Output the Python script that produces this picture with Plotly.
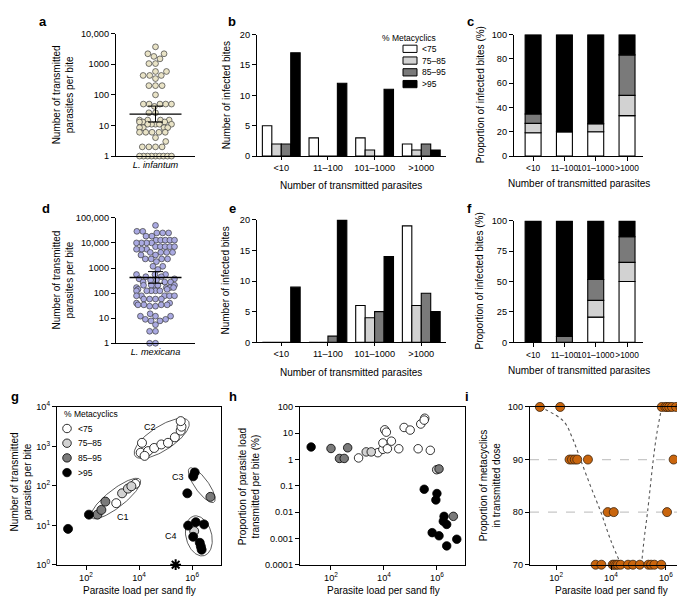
import numpy as np
import plotly.graph_objects as go

W, H = 685, 596
FONT = "Liberation Sans, Arial, sans-serif"

# ------------------------------------------------------------------ data
cat_labels = ["<10", "11–100", "101–1000", ">1000"]
meta_labels = ["<75", "75–85", "85–95", ">95"]

# a: L. infantum, transmitted parasites per bite
infantum_counts = [3700, 2200, 2200, 1800, 1500, 1050, 1050, 580, 580, 430, 430, 430, 340,
                   200, 200, 200, 100, 50, 50, 50, 50, 50, 42, 26, 26, 15, 15, 15, 15,
                   13, 13, 13, 11, 11, 11, 11, 11, 8.5, 8.5, 8.5, 8.5, 6, 6, 6, 6, 6,
                   4, 3, 2, 2, 2, 2, 1, 1, 1, 1, 1, 1, 1, 1, 1]
# d: L. mexicana, transmitted parasites per bite
mexicana_counts = [50000, 29000, 29000, 25000, 25000, 25000, 18600, 18600,
                   12900, 12900, 12900, 12900, 12900, 10000, 10000, 10000, 10000,
                   7100, 7100, 7100, 7100, 7100, 5600, 5600, 5600, 4200, 4200, 4200, 4200,
                   3300, 3300, 2300, 2300, 2300, 2300, 1800, 1170, 1170,
                   870, 550, 550, 550, 450, 450, 370, 370, 330, 330, 275, 275, 275,
                   205, 205, 205, 205, 205, 166, 166, 166, 166, 141, 141,
                   123, 123, 123, 123, 123,
                   78, 78, 78, 78, 78, 58, 58, 58, 58, 40, 40, 34, 34, 34, 34, 30, 30,
                   15, 12, 12, 12,
                   9, 9, 7.8, 7.8, 5.5, 3, 3, 1, 1]

# b: L. infantum infected bites per metacyclic class
b_lt75 = [5, 3, 3, 2]
b_75_85 = [2, 0, 1, 1]
b_85_95 = [2, 0, 0, 2]
b_gt95 = [17, 12, 11, 1]
# e: L. mexicana infected bites per metacyclic class
e_lt75 = [0, 0, 6, 19]
e_75_85 = [0, 0, 4, 6]
e_85_95 = [0, 1, 5, 8]
e_gt95 = [9, 20, 14, 5]

# g: parasite load vs transmitted parasites (class, cluster)
g_load = [21, 129, 661000, 1.26e6, 1.10e6,
          7.08e5, 1.38e6, 2.82e6, 1.10e6, 1.95e6, 2.14e6, 2.29e6,
          269, 380, 537, 4.9e6,
          2290, 3800, 5130, 1.2e6,
          1380, 7240,
          12900, 11500, 21900, 37200, 69200, 123000, 224000, 372000, 398000, 372000, 16200]
g_trans = [8.1, 18.6, 64.6, 219, 174,
           9.8, 12.0, 10.5, 5.1, 3.6, 2.9, 2.4,
           18.6, 24.5, 39.8, 52.5,
           64.6, 85, 97.7, 7.1,
           36.3, 112,
           1230, 692, 759, 912, 1120, 1230, 1700, 2510, 3160, 4370, 575]
g_class = [3, 3, 3, 3, 3,
           3, 3, 3, 3, 3, 3, 3,
           2, 2, 2, 2,
           1, 1, 1, 1,
           0, 0,
           0, 0, 0, 0, 0, 0, 0, 0, 0, 0, 0]
g_cluster = [0, 0, 0, 3, 3,
             4, 4, 4, 4, 4, 4, 4,
             1, 1, 1, 3,
             1, 1, 1, 4,
             1, 1,
             2, 2, 2, 2, 2, 2, 2, 2, 2, 2, 2]
g_cluster_names = ["C1", "C2", "C3", "C4"]
g_zero_load = [240000]   # bite with no transmitted parasites (asterisk)
g_zero_trans = [1]

# h: parasite load vs proportion transmitted (%)
h_load = [17.8, 331000, 1.0e6, 912000, 1.86e6, 1.74e6, 2.34e6, 661000, 1.2e6, 2.34e6, 5.62e6,
          100, 209, 316, 427, 1.2e6, 4.17e6,
          2140, 3310, 977000,
          1100, 5890, 9120, 9120, 10700, 12300, 13500, 19100, 36300, 57500, 97700,
          195000, 245000, 347000, 331000, 562000]
h_prop = [3.0, 0.074, 0.051, 0.029, 0.0069, 0.0045, 0.0034, 0.00166, 0.00126, 0.00052, 0.00093,
          2.63, 1.1, 1.1, 2.8, 0.44, 0.0069,
          1.95, 1.95, 0.41,
          1.15, 1.82, 2.45, 4.27, 13.5, 11.0, 2.57, 5.0, 2.57, 16.6, 13.2,
          2.57, 22.4, 37.2, 31.6, 2.24]
h_class = [3] * 11 + [2] * 6 + [1] * 3 + [0] * 16

# i: parasite load vs % metacyclics in transmitted dose
i_load = [25.7, 141, 708000, 955000, 1.1e6, 1.32e6, 1.66e6, 2.34e6, 3.39e6, 5.25e6, 6.03e6,
          309, 380, 479, 589, 1445, 1.91e6, 6.03e6,
          7590, 12600, 1.1e6,
          2750, 4470, 11500, 13200, 15500, 17800, 22400, 41700, 63100, 112000, 229000,
          288000, 380000, 676000]
i_meta = [100] * 11 + [90] * 7 + [80] * 3 + [70] * 14
fit1_load = [25.7, 186, 398, 776, 1780, 4270, 10000, 23400]
fit1_meta = [100, 97.3, 94, 90, 85, 80, 74.5, 70]
fit2_load = [129000, 162000, 214000, 347000, 468000, 708000]
fit2_meta = [70, 75, 80, 90, 95, 100]

# ------------------------------------------------------------------ helpers
fills = ["#ffffff", "#d2d2d2", "#7a7a7a", "#000000"]


def dx(p0, p1):
    return [p0 / W, p1 / W]


def dy(top, bot):
    return [1 - bot / H, 1 - top / H]


annotations = []
shapes = []


def ann(text, px, py, size=10, bold=False, angle=0, xanchor="center"):
    t = text
    if bold:
        t = "<b>" + t + "</b>"
    annotations.append(dict(text=t, x=px / W, y=1 - py / H, xref="paper", yref="paper",
                            showarrow=False, font=dict(size=size, family=FONT, color="black"),
                            textangle=angle, xanchor=xanchor, yanchor="middle", align="center"))


def swarm(vals, px_per_dec, diam, maxw):
    vals = np.asarray(vals, float)
    ys = np.log10(vals) * px_per_dec
    order = np.argsort(ys, kind="stable")
    placed = []
    xs = np.zeros(len(ys))
    for idx in order:
        y = ys[idx]
        cands = [0.0]
        for (px, py) in placed:
            d = y - py
            if abs(d) < diam:
                ddx = np.sqrt(diam ** 2 - d ** 2)
                cands += [px + ddx, px - ddx]
        cands.sort(key=lambda c: (round(abs(c), 6), c))
        for c in cands:
            if all((c - px) ** 2 + (y - py) ** 2 >= diam ** 2 - 1e-6 for px, py in placed):
                xs[idx] = c
                break
        placed.append((xs[idx], y))
    # rows of identical values that spread too wide are squeezed together
    for v in np.unique(vals):
        sel = vals == v
        span = np.abs(xs[sel]).max()
        if span > maxw:
            xs[sel] = xs[sel] * maxw / span
    # soft clamp of the remaining wide points
    big = np.abs(xs) > maxw
    xs[big] = np.sign(xs[big]) * (maxw + (np.abs(xs[big]) - maxw) * 0.35)
    return xs


fig = go.Figure()

# ------------------------------------------------------------------ a & d (dot plots)
def dotplot(vals, xa, ya, px_per_dec, color, diam, maxw):
    xs = swarm(vals, px_per_dec, diam, maxw)
    fig.add_trace(go.Scatter(x=xs, y=vals, mode="markers", xaxis=xa, yaxis=ya, cliponaxis=False,
                             marker=dict(size=5.8, color=color, line=dict(color="#3c3c3c", width=0.7))))
    lv = np.log10(vals)
    gm = 10 ** lv.mean()
    sem = lv.std(ddof=1) / np.sqrt(len(lv))
    lo, hi = 10 ** (lv.mean() - 1.96 * sem), 10 ** (lv.mean() + 1.96 * sem)
    fig.add_trace(go.Scatter(x=[-26, 26], y=[gm, gm], mode="lines", xaxis=xa, yaxis=ya,
                             line=dict(color="black", width=1.4)))
    fig.add_trace(go.Scatter(x=[0, 0, None, -7.5, 7.5, None, -7.5, 7.5],
                             y=[lo, hi, None, lo, lo, None, hi, hi], mode="lines",
                             xaxis=xa, yaxis=ya, line=dict(color="black", width=1)))


dotplot(infantum_counts, "x", "y", 31.25, "#e9e3c6", 6.6, 16)
dotplot(mexicana_counts, "x4", "y4", 25.6, "#aaaae2", 5.9, 19)

# ------------------------------------------------------------------ b & e (grouped bars)
bw = 0.2025
for xa, ya, series in (("x2", "y2", [b_lt75, b_75_85, b_85_95, b_gt95]),
                       ("x5", "y5", [e_lt75, e_75_85, e_85_95, e_gt95])):
    for k, s in enumerate(series):
        fig.add_trace(go.Bar(x=list(range(4)), y=s, width=bw, offset=-2 * bw + k * bw,
                             xaxis=xa, yaxis=ya, marker=dict(color=fills[k], line=dict(color="black", width=1.1))))

# ------------------------------------------------------------------ c & f (stacked proportions)
for xa, ya, series in (("x3", "y3", [b_lt75, b_75_85, b_85_95, b_gt95]),
                       ("x6", "y6", [e_lt75, e_75_85, e_85_95, e_gt95])):
    arr = np.array(series, float)
    pct = arr / arr.sum(axis=0) * 100
    base = np.zeros(4)
    for k in range(4):
        fig.add_trace(go.Bar(x=list(range(4)), y=pct[k], base=base.copy(), width=0.51, offset=-0.255,
                             xaxis=xa, yaxis=ya, marker=dict(color=fills[k], line=dict(color="black", width=1.1))))
        base += pct[k]

# ------------------------------------------------------------------ g
sx, sy = 26.5, 40.25
gl = np.array(g_load, float)
gt = np.array(g_trans, float)
gc = np.array(g_cluster)
for k in range(1, 5):
    idx = np.where(gc == k)[0]
    P = np.column_stack([np.log10(gl[idx]) * sx, np.log10(gt[idx]) * sy])
    m = P.mean(0)
    w, V = np.linalg.eigh(np.cov((P - m).T))
    u, v = V[:, 1], V[:, 0]
    pu, pv = (P - m) @ u, (P - m) @ v
    cen = m + (pu.max() + pu.min()) / 2 * u + (pv.max() + pv.min()) / 2 * v
    a = (pu.max() - pu.min()) / 2 + 6.5
    b = (pv.max() - pv.min()) / 2 + 5.0
    t = np.linspace(0, 2 * np.pi, 120)
    E = cen + np.outer(a * np.cos(t), u) + np.outer(b * np.sin(t), v)
    fig.add_trace(go.Scatter(x=10 ** (E[:, 0] / sx), y=10 ** (E[:, 1] / sy), mode="lines",
                             xaxis="x7", yaxis="y7", line=dict(color="#333333", width=0.8)))

g_cls = np.array(g_class)
for k in range(4):
    idx = np.where(g_cls == k)[0]
    fig.add_trace(go.Scatter(x=gl[idx], y=gt[idx], mode="markers", xaxis="x7", yaxis="y7",
                             cliponaxis=False,
                             marker=dict(size=9, color=fills[k], line=dict(color="black", width=0.8))))
fig.add_trace(go.Scatter(x=g_zero_load, y=g_zero_trans, mode="markers", xaxis="x7", yaxis="y7",
                         cliponaxis=False,
                         marker=dict(symbol="asterisk-open", size=9, color="black", line=dict(color="black", width=2))))

# ------------------------------------------------------------------ h
hl = np.array(h_load, float)
hp = np.array(h_prop, float)
h_cls = np.array(h_class)
for k in range(4):
    idx = np.where(h_cls == k)[0]
    fig.add_trace(go.Scatter(x=hl[idx], y=hp[idx], mode="markers", xaxis="x8", yaxis="y8",
                             marker=dict(size=8.5, color=fills[k], line=dict(color="black", width=0.8))))

# ------------------------------------------------------------------ i
for fl, fm in ((fit1_load, fit1_meta), (fit2_load, fit2_meta)):
    fig.add_trace(go.Scatter(x=fl, y=fm, mode="lines", xaxis="x9", yaxis="y9", line_shape="spline",
                             line=dict(color="#555555", width=1.1, dash="dot")))
fig.add_trace(go.Scatter(x=i_load, y=i_meta, mode="markers", xaxis="x9", yaxis="y9", cliponaxis=False,
                         marker=dict(size=9, color="#c9650d", line=dict(color="#3a2410", width=0.8))))
for yv in (80, 90):
    shapes.append(dict(type="line", xref="x9 domain", yref="y9", x0=0, x1=1, y0=yv, y1=yv,
                       line=dict(color="#c8c8c8", width=1.2, dash="dash"), layer="below"))

# ------------------------------------------------------------------ axes
tickfont = dict(size=9.2, family=FONT, color="black")
base_ax = dict(showline=True, linecolor="black", linewidth=1.3, showgrid=False, zeroline=False,
               tickfont=tickfont, ticks="outside", ticklen=4, tickcolor="black", tickwidth=1.1)

layout_axes = {}


def setax(n, xdom, ydom, xa=None, ya=None):
    sfx = "" if n == 1 else str(n)
    xd = dict(base_ax, domain=xdom, anchor="y" + sfx)
    xd.update(xa or {})
    yd = dict(base_ax, domain=ydom, anchor="x" + sfx)
    yd.update(ya or {})
    layout_axes["xaxis" + sfx] = xd
    layout_axes["yaxis" + sfx] = yd


setax(1, dx(108, 187), dy(19, 144),
      dict(range=[-39.5, 39.5], ticks="", tickvals=[0], ticktext=["<i>L. infantum</i>"]),
      dict(type="log", range=[0, 4], tickvals=[1, 10, 100, 1000, 10000],
           ticktext=["1", "10", "100", "1000", "10,000"]))
setax(4, dx(108, 187), dy(207, 335),
      dict(range=[-39.5, 39.5], ticks="", tickvals=[0], ticktext=["<i>L. mexicana</i>"]),
      dict(type="log", range=[0, 5], tickvals=[1, 10, 100, 1000, 1e4, 1e5],
           ticktext=["1", "10", "100", "1000", "10,000", "100,000"]))

bar_x = dict(range=[-0.52, 3.53], tickvals=list(range(4)), ticktext=cat_labels, tickangle=0, ticklen=3)
setax(2, dx(249, 438), dy(20, 144), bar_x, dict(range=[0, 20], tickvals=[0, 5, 10, 15, 20]))
setax(5, dx(249, 438), dy(209, 334), bar_x, dict(range=[0, 20], tickvals=[0, 5, 10, 15, 20]))
prop_x = dict(range=[-0.61, 3.51], tickvals=list(range(4)), ticktext=cat_labels, tickangle=0, ticklen=4,
              tickfont=dict(size=8.4, family=FONT, color="black"))
setax(3, dx(506, 635), dy(20, 144), prop_x, dict(range=[0, 100], tickvals=[0, 20, 40, 60, 80, 100]))
setax(6, dx(506, 635), dy(210, 334), prop_x, dict(range=[0, 100], tickvals=[0, 25, 50, 75, 100]))


def sup(e):
    return "10<sup>%d</sup>" % e


load_x = dict(type="log", mirror=True, tickvals=[1e2, 1e4, 1e6], ticktext=[sup(2), sup(4), sup(6)])
setax(7, dx(49, 213), dy(400, 561), dict(load_x, range=[0.906, 7.09]),
      dict(type="log", mirror=True, range=[0, 4], tickvals=[1, 10, 100, 1000, 1e4],
           ticktext=[sup(e) for e in range(5)]))
setax(8, dx(292, 457), dy(400, 561), dict(load_x, range=[0.83, 7.06]),
      dict(type="log", mirror=True, range=[-4, 2], tickvals=[1e-4, 1e-3, 1e-2, 0.1, 1, 10, 100],
           ticktext=["0.0001", "0.001", "0.01", "0.1", "1", "10", "100"]))
setax(9, dx(522, 684), dy(400, 561), dict(load_x, range=[1.05, 6.95]),
      dict(mirror=True, range=[70, 100], tickvals=[70, 80, 90, 100]))

# ------------------------------------------------------------------ text
for letter, px, py in (("a", 35, 7), ("b", 224, 7), ("c", 462, 7), ("d", 38, 197), ("e", 224, 197),
                       ("f", 461, 197), ("g", 7, 389), ("h", 225, 389), ("i", 459, 389)):
    ann(letter, px, py, size=13, bold=True)

ann("Number of transmitted<br>parasites per bite", 55, 82, angle=-90)
ann("Number of transmitted<br>parasites per bite", 55, 271, angle=-90)
ann("Number of infected bites", 218, 82, angle=-90)
ann("Number of infected bites", 218, 271, angle=-90)
ann("Proportion of infected bites (%)", 472, 82, angle=-90)
ann("Proportion of infected bites (%)", 472, 272, angle=-90)
ann("Number of transmitted parasites", 343, 174)
ann("Number of transmitted parasites", 343, 365)
ann("Number of transmitted parasites", 571, 172)
ann("Number of transmitted parasites", 571, 363)
ann("Number of transmitted<br>parasites per bite", 13, 477, angle=-90)
ann("Proportion of parasite load<br>transmitted per bite (%)", 241, 482, angle=-90)
ann("Proportion of metacyclics<br>in transmitted dose", 482, 480, angle=-90)
for cx in (131, 375, 603):
    ann("Parasite load per sand fly", cx, 587)

# cluster labels in g
for name, (px, py) in zip(g_cluster_names, ((115, 512), (142, 420), (170, 472), (163, 532))):
    ann(name, px, py, size=9)

# legend in b (bars)
ann("% Metacyclics", 401, 23, size=8.5)
for k, (lab, ry) in enumerate(zip(meta_labels, (34.5, 46.5, 58.5, 70.5))):
    shapes.append(dict(type="rect", xref="paper", yref="paper", x0=395 / W, x1=409 / W,
                       y0=1 - (ry + 3.7) / H, y1=1 - (ry - 3.7) / H,
                       fillcolor=fills[k], line=dict(color="black", width=1)))
    ann(lab, 412, ry, size=8.5, xanchor="left")

# legend in g (circles)
ann("% Metacyclics", 54, 407, size=8.5, xanchor="left")
for k, (lab, ry) in enumerate(zip(meta_labels, (422, 437, 452, 467))):
    r = 4.3
    shapes.append(dict(type="circle", xref="paper", yref="paper", x0=(59 - r) / W, x1=(59 + r) / W,
                       y0=1 - (ry + r) / H, y1=1 - (ry - r) / H,
                       fillcolor=fills[k], line=dict(color="black", width=0.8)))
    ann(lab, 68, ry, size=8.5, xanchor="left")

fig.update_layout(width=W, height=H, margin=dict(l=0, r=0, t=0, b=0), showlegend=False,
                  paper_bgcolor="white", plot_bgcolor="white", barmode="overlay",
                  font=dict(family=FONT, size=10, color="black"),
                  annotations=annotations, shapes=shapes, **layout_axes)
fig.write_html("out.html")
